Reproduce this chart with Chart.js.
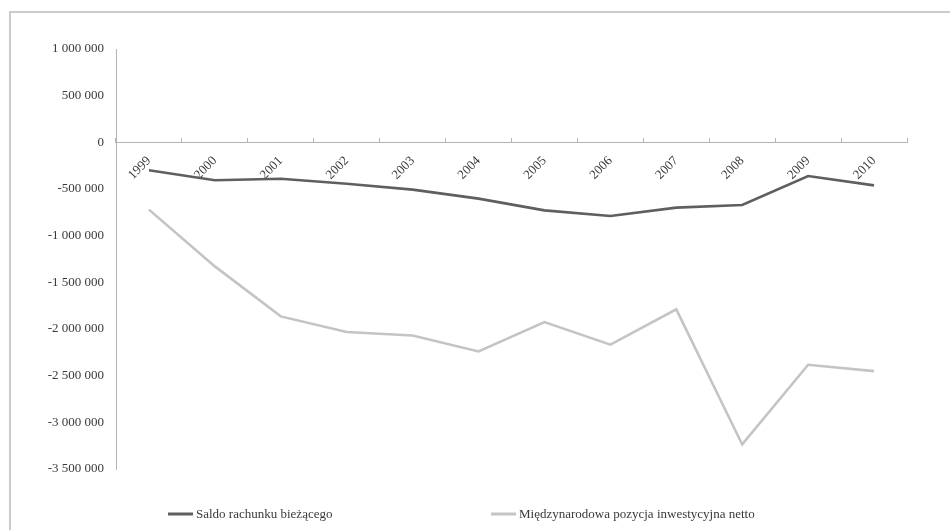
<!DOCTYPE html>
<html>
<head>
<meta charset="utf-8">
<script src="https://cdn.jsdelivr.net/npm/chart.js@4/dist/chart.umd.min.js"></script>
<style>
  html, body { margin: 0; padding: 0; background: #ffffff; }
  canvas { display: block; }
</style>
</head>
<body>
<canvas id="chart" width="950" height="530"></canvas>
<script>
// Years on the category axis
const years = ['1999', '2000', '2001', '2002', '2003', '2004', '2005', '2006', '2007', '2008', '2009', '2010'];

// Series names
const seriesNames = ['Saldo rachunku bieżącego', 'Międzynarodowa pozycja inwestycyjna netto'];

// Current account balance
const saldoRachunku = [-300000, -407000, -390000, -443000, -507000, -603000, -729000, -790000, -700000, -672000, -361000, -461000];

// Net international investment position
const pozycjaInwestycyjna = [-721000, -1329000, -1865000, -2033000, -2069000, -2240000, -1926000, -2168000, -1790000, -3237000, -2383000, -2451000];

// Value axis range and step
const yMin = -3500000;
const yMax = 1000000;
const yStep = 500000;

const FONT = '"Liberation Serif", "Times New Roman", serif';
const FONT_SIZE = 13;
const TEXT = '#3a3a3a';
const AXIS = '#b4b4b4';
const COLORS = ['#5f5f5f', '#c4c4c4'];

function formatNumber(v) {
  const s = Math.abs(Math.round(v)).toString().replace(/\B(?=(\d{3})+(?!\d))/g, ' ');
  return (v < 0 ? '-' : '') + s;
}

// Outer frame and white background
const framePlugin = {
  id: 'frame',
  beforeDraw(chart) {
    const ctx = chart.ctx;
    ctx.save();
    ctx.fillStyle = '#ffffff';
    ctx.fillRect(0, 0, chart.width, chart.height);
    ctx.strokeStyle = '#cbcbcb';
    ctx.lineWidth = 2;
    ctx.beginPath();
    ctx.moveTo(10, chart.height);
    ctx.lineTo(10, 12);
    ctx.lineTo(chart.width, 12);
    ctx.stroke();
    ctx.restore();
  }
};

// Legend along the bottom, items spread apart
const legendPlugin = {
  id: 'spreadLegend',
  afterDraw(chart) {
    const ctx = chart.ctx;
    const starts = [168, 491];
    const y = 514;
    ctx.save();
    ctx.font = FONT_SIZE + 'px ' + FONT;
    ctx.textBaseline = 'middle';
    ctx.textAlign = 'left';
    chart.data.datasets.forEach((ds, i) => {
      const x = starts[i];
      ctx.strokeStyle = ds.borderColor;
      ctx.lineWidth = 3;
      ctx.beginPath();
      ctx.moveTo(x, y);
      ctx.lineTo(x + 25, y);
      ctx.stroke();
      ctx.fillStyle = TEXT;
      ctx.fillText(ds.label, x + 28, y + 1);
    });
    ctx.restore();
  }
};

new Chart(document.getElementById('chart'), {
  type: 'line',
  data: {
    labels: years,
    datasets: [
      {
        label: seriesNames[0],
        data: saldoRachunku,
        borderColor: COLORS[0],
        backgroundColor: COLORS[0],
        borderWidth: 2.6,
        pointRadius: 0,
        tension: 0,
        fill: false
      },
      {
        label: seriesNames[1],
        data: pozycjaInwestycyjna,
        borderColor: COLORS[1],
        backgroundColor: COLORS[1],
        borderWidth: 2.6,
        pointRadius: 0,
        tension: 0,
        fill: false
      }
    ]
  },
  options: {
    responsive: false,
    animation: false,
    devicePixelRatio: 1,
    layout: { padding: { left: 0, right: 43, top: 49, bottom: 61 } },
    plugins: {
      legend: { display: false },
      tooltip: { enabled: false }
    },
    scales: {
      x: {
        type: 'category',
        position: { y: 0 },
        offset: true,
        grid: {
          offset: true,
          drawOnChartArea: false,
          drawTicks: true,
          tickLength: -5,
          color: AXIS,
          lineWidth: 1
        },
        border: { display: true, color: AXIS, width: 1 },
        ticks: {
          minRotation: 45,
          maxRotation: 45,
          autoSkip: false,
          padding: 16,
          color: TEXT,
          font: { family: FONT, size: FONT_SIZE }
        }
      },
      y: {
        min: yMin,
        max: yMax,
        afterFit(scale) { scale.width = 116; },
        grid: { display: false, drawTicks: false },
        border: { display: true, color: AXIS, width: 1 },
        ticks: {
          stepSize: yStep,
          padding: 12,
          color: TEXT,
          font: { family: FONT, size: FONT_SIZE },
          callback: (v) => formatNumber(v)
        }
      }
    }
  },
  plugins: [framePlugin, legendPlugin]
});
</script>
</body>
</html>
